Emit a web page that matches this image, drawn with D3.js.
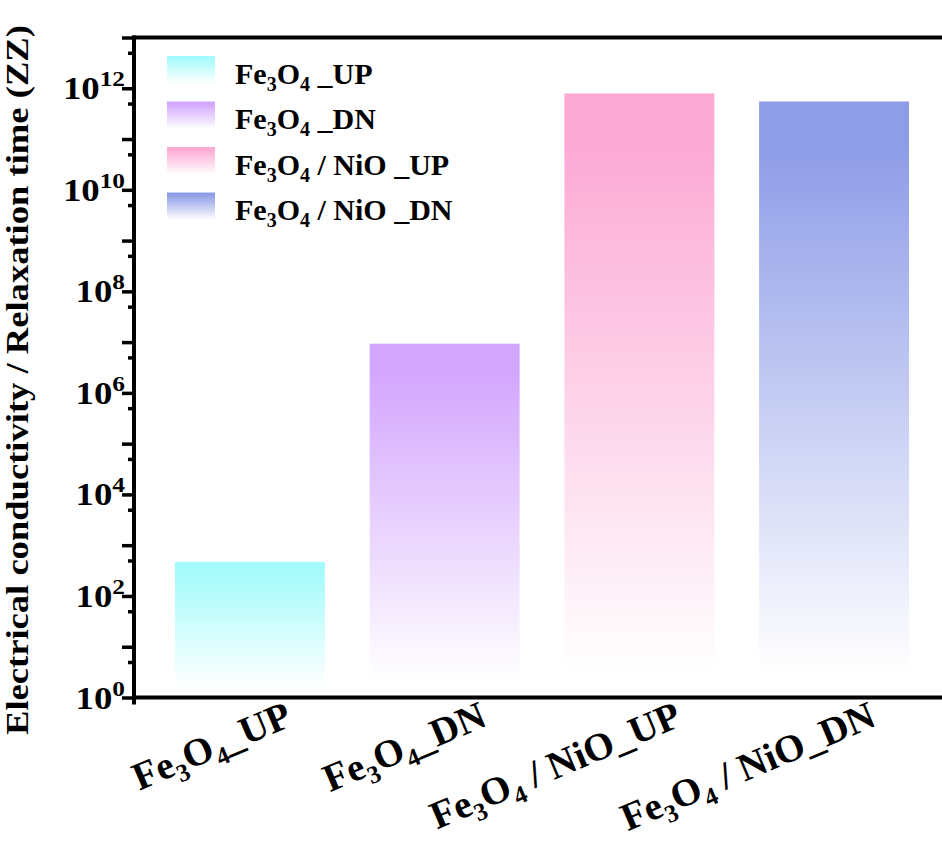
<!DOCTYPE html>
<html>
<head>
<meta charset="utf-8">
<script src="https://cdn.jsdelivr.net/npm/d3@7"></script>
<style>
  html, body { margin: 0; padding: 0; background: #fff; }
  svg { display: block; }
  text { font-family: "Times New Roman", "Liberation Serif", Tinos, Times, serif; font-weight: 700; fill: #000; }
</style>
</head>
<body>
<svg id="chart" width="942" height="842"></svg>
<script>
// ---- data ----
const categories = ["Fe3O4_UP", "Fe3O4_DN", "Fe3O4 / NiO_UP", "Fe3O4 / NiO_DN"];
const legendLabels = ["Fe3O4 _UP", "Fe3O4 _DN", "Fe3O4 / NiO _UP", "Fe3O4 / NiO _DN"];
const values = [470, 9.3e6, 7.9e11, 5.5e11];
const colors = ["#a5fbfb", "#d3a6fd", "#fca9d4", "#8f9de8"];
const majorTicks = [1e0, 1e1, 1e2, 1e3, 1e4, 1e5, 1e6, 1e7, 1e8, 1e9, 1e10, 1e11, 1e12, 1e13];
const minorTicks = [5e0, 5e1, 5e2, 5e3, 5e4, 5e5, 5e6, 5e7, 5e8, 5e9, 5e10, 5e11, 5e12];
const labelExponents = [0, 2, 4, 6, 8, 10, 12];
const yTitle = "Electrical conductivity / Relaxation time (ZZ)";

// ---- layout ----
const svg = d3.select("#chart");
const mLeft = 134, mTop = 37.5, mBottom = 697.5, mRight = 945;

const y = d3.scaleLog().domain([1, 1e13]).range([mBottom, mTop]);
const x = d3.scaleBand().domain(categories)
  .range([152.6, 931.4]).paddingInner(0.23).paddingOuter(0.115);

// gradients
const defs = svg.append("defs");
colors.forEach((c, i) => {
  const g = defs.append("linearGradient").attr("id", "grad" + i)
    .attr("x1", 0).attr("y1", 0).attr("x2", 0).attr("y2", 1);
  g.append("stop").attr("offset", "0%").attr("stop-color", c);
  g.append("stop").attr("offset", "8%").attr("stop-color", c);
  g.append("stop").attr("offset", "97%").attr("stop-color", "#ffffff");
});

// bars
svg.append("g").selectAll("rect").data(values).join("rect")
  .attr("x", (d, i) => x(categories[i]))
  .attr("width", x.bandwidth())
  .attr("y", d => y(d))
  .attr("height", d => y(1) - y(d) - 6)
  .attr("fill", (d, i) => "url(#grad" + i + ")");

// rich text helper: digits become subscripts
function richText(sel, str, base, subSize, subDy) {
  const parts = str.split(/(\d)/).filter(s => s.length);
  let shifted = false;
  parts.forEach(p => {
    const isSub = /^\d$/.test(p);
    const t = sel.append("tspan").text(p);
    if (isSub) {
      t.attr("font-size", subSize).attr("dy", shifted ? 0 : subDy);
      shifted = true;
    } else {
      t.attr("font-size", base).attr("dy", shifted ? -subDy : 0);
      shifted = false;
    }
  });
}

// y axis ticks
const yMajor = d3.axisLeft(y).tickValues(majorTicks).tickSize(12).tickSizeOuter(0).tickFormat("");
const yMinor = d3.axisLeft(y).tickValues(minorTicks).tickSize(6).tickSizeOuter(0).tickFormat("");
const gMaj = svg.append("g").attr("transform", `translate(${mLeft},0)`).call(yMajor);
const gMin = svg.append("g").attr("transform", `translate(${mLeft},0)`).call(yMinor);
[gMaj, gMin].forEach(g => {
  g.select(".domain").remove();
  g.selectAll(".tick line").attr("stroke", "#000").attr("stroke-width", 3.5);
});

// y tick labels
const lab = svg.append("g").selectAll("g").data(labelExponents).join("g")
  .attr("transform", d => `translate(125,${y(Math.pow(10, d)) + 11}) scale(1.15,1)`);
lab.append("text").attr("text-anchor", "end").each(function (d) {
  const t = d3.select(this);
  t.append("tspan").attr("font-size", 32).text("10");
  t.append("tspan").attr("font-size", 22).attr("dy", -13).text(d);
});

// frame lines
svg.append("line").attr("x1", mLeft).attr("x2", mLeft).attr("y1", mTop - 2).attr("y2", mBottom + 7)
  .attr("stroke", "#000").attr("stroke-width", 4);
svg.append("line").attr("x1", mLeft - 2).attr("x2", mRight).attr("y1", mTop).attr("y2", mTop)
  .attr("stroke", "#000").attr("stroke-width", 4);
svg.append("line").attr("x1", mLeft - 2).attr("x2", mRight).attr("y1", mBottom).attr("y2", mBottom)
  .attr("stroke", "#000").attr("stroke-width", 4);

// x labels
svg.append("g").selectAll("text").data(categories).join("text")
  .attr("text-anchor", "end")
  .attr("transform", d => `translate(${x(d) + x.bandwidth() / 2 + 44},${725}) rotate(-23)`)
  .each(function (d) { richText(d3.select(this), d, 39, 25, 9); });

// y title
svg.append("text")
  .attr("transform", `translate(28,735) rotate(-90) scale(1.18,1)`)
  .attr("text-anchor", "start")
  .attr("font-size", 31)
  .text(yTitle);

// legend
const leg = svg.append("g").selectAll("g").data(legendLabels).join("g")
  .attr("transform", (d, i) => `translate(167,${56 + i * 45.5})`);
leg.append("rect").attr("width", 48).attr("height", 28)
  .attr("fill", (d, i) => "url(#grad" + i + ")");
leg.append("text").attr("x", 68).attr("y", 27.5)
  .each(function (d) { richText(d3.select(this), d, 30, 20, 7); });
</script>
</body>
</html>
